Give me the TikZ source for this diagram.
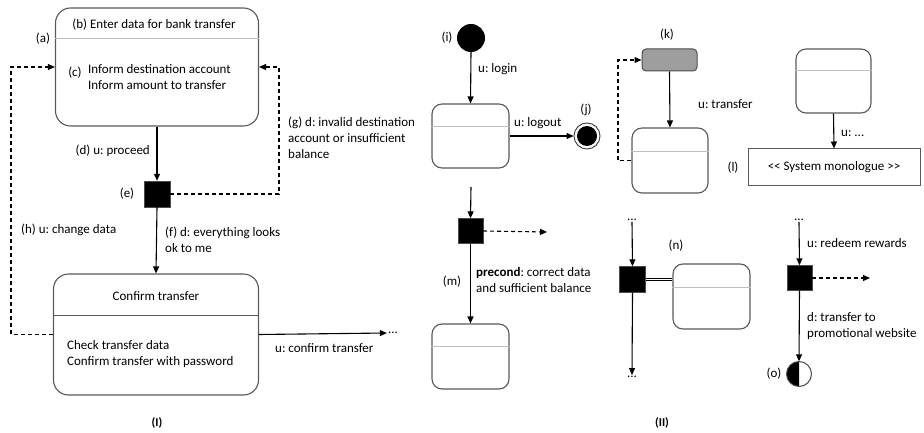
\documentclass[tikz,border=0pt]{standalone}
\usepackage{fontspec}
\setmainfont{Carlito}
\usetikzlibrary{arrows.meta,calc}
\frenchspacing
\begin{document}
\begin{tikzpicture}[x=1pt,y=-1pt,
  every node/.style={font=\fontsize{13}{16}\selectfont\frenchspacing},
  statebox/.style={draw=black!65, line width=1.1pt, rounded corners=15pt, fill=white},
  smallbox/.style={draw=black!65, line width=1.1pt, rounded corners=10pt, fill=white},
  divlight/.style={draw=black!25, line width=1pt},
  divdark/.style={draw=black!65, line width=1pt},
  lbl/.style={inner sep=1pt, align=left},
  decis/.style={draw=black!70, fill=black, minimum size=26pt, inner sep=0pt},
  arr/.style={line width=1.1pt, -{Triangle[length=7pt,width=6pt]}},
  darr/.style={line width=1.1pt, dash pattern=on 4pt off 3pt, -{Triangle[length=7pt,width=6pt]}},
]
\useasboundingbox (0,0) rectangle (924,433);

% ---------------- Part (I) ----------------
\node[statebox, minimum width=203pt, minimum height=118pt] (b1) at (157,67) {};
\draw[divlight] ($(b1.north west)+(0,31)$) -- ($(b1.north east)+(0,31)$);
\node[lbl] (tb) at (154,25) {(b) Enter data for bank transfer};
\node[lbl] (ta) at (43,39) {(a)};
\node[lbl] (tc) at (75,73) {(c)};
\node[lbl, anchor=west] (tcc) at (87,77) {Inform destination account\\Inform amount to transfer};

\node[decis] (e) at (157,194) {};
\node[lbl] (te) at (127,194) {(e)};
\draw[arr] (b1.south) -- (e.north);
\node[lbl, anchor=east] (td) at (151,151) {(d) u: proceed};

\coordinate (gc) at (279,67);
\draw[darr] (e.east) -| (gc) -- (b1.east);
\node[lbl, anchor=west] (tg) at (287,138) {(g) d: invalid destination\\account or insufficient\\balance};

\node[statebox, minimum width=205pt, minimum height=121pt] (b2) at (156,334.5) {};
\draw[divdark] ($(b2.north west)+(0,42)$) -- ($(b2.north east)+(0,42)$);
\node[lbl] (tct) at (156,296) {Confirm transfer};
\node[lbl, anchor=west] (tcd) at (66,354) {Check transfer data\\Confirm transfer with password};

\draw[arr] (e.south) -- (b2.north);
\node[lbl, anchor=west] (tf) at (164,240) {(f) d: everything looks\\ok to me};
\node[lbl, anchor=west] (th) at (20,230) {(h) u: change data};

\coordinate (hc) at (11,67);
\draw[darr] (b2.west) -| (hc) -- (b1.west);

\node[lbl] (dots1) at (393,333) {...};
\draw[arr] (b2.east) -- (dots1.west);
\node[lbl, anchor=west] (tu) at (274,348) {u: confirm transfer};

\node[lbl, font=\fontsize{12}{14}\selectfont\bfseries] (I) at (157,423) {(I)};

% ---------------- Part (II) ----------------
% (i) / (j)
\node[circle, fill=black, minimum size=28pt, inner sep=0pt] (i) at (471,38) {};
\node[lbl] (ti) at (447,38) {(i)};
\node[smallbox, minimum width=77pt, minimum height=64pt] (s1) at (470.5,136) {};
\draw[divlight] ($(s1.north west)+(0,23)$) -- ($(s1.north east)+(0,23)$);
\draw[arr] (i.south) -- (s1.north);
\node[lbl, anchor=west] (tl) at (477,69) {u: login};
\node[circle, draw=black!70, line width=1pt, fill=white, minimum size=26pt, inner sep=0pt] (j) at (587,136) {};
\fill[black] (j.center) circle[radius=10pt];
\node[lbl] (tj) at (586,110) {(j)};
\draw[arr] (s1.east) -- (j.west);
\node[lbl, anchor=west] (tlo) at (513,123) {u: logout};

% (m)
\coordinate (m0) at (471,187);
\node[decis, minimum size=25pt] (m) at (470.5,231) {};
\draw[arr] (m0) -- (m.north);
\coordinate (m1) at (547,232);
\draw[darr] (m.east) -- (m1);
\node[smallbox, minimum width=77pt, minimum height=65pt] (s2) at (470.5,356.5) {};
\draw[divlight] ($(s2.north west)+(0,23)$) -- ($(s2.north east)+(0,23)$);
\draw[arr] (m.south) -- (s2.north);
\node[lbl] (tm) at (452,282) {(m)};
\node[lbl, anchor=west] (tp) at (475,280) {\textbf{precond}: correct data\\and sufficient balance};

% (k)
\node[draw=black!70, line width=1pt, fill=black!38, rounded corners=4pt, minimum width=55pt, minimum height=22pt] (k) at (669.5,60) {};
\node[lbl] (tk) at (667,35) {(k)};
\node[smallbox, minimum width=76pt, minimum height=65pt] (s3) at (670,160.5) {};
\draw[divlight] ($(s3.north west)+(0,24)$) -- ($(s3.north east)+(0,24)$);
\draw[arr] (k.south) -- (s3.north);
\node[lbl, anchor=west] (tt) at (697,104) {u: transfer};
\coordinate (kc) at (618,60);
\draw[darr] (s3.west) -| (kc) -- (k.west);

% (l)
\node[smallbox, minimum width=75pt, minimum height=64pt] (s4) at (833.5,81) {};
\draw[divlight] ($(s4.north west)+(0,22)$) -- ($(s4.north east)+(0,22)$);
\node[draw=black!65, line width=1pt, minimum width=172pt, minimum height=37pt] (mono) at (834,167.5) {<{}< System monologue >{}>};
\draw[arr] (s4.south) -- (mono.north);
\node[lbl, anchor=west] (tud) at (840,133) {u: ...};
\node[lbl] (tll) at (733,168) {(l)};

% (n)
\node[lbl] (dots2) at (632,220) {...};
\node[decis] (nsq) at (632.5,279.5) {};
\node[lbl] (dots3) at (632,377) {...};
\draw[arr] (dots2.south) -- (nsq.north);
\draw[arr] (nsq.south) -- (dots3.north);
\node[smallbox, minimum width=77pt, minimum height=65pt] (s5) at (711.5,296.5) {};
\draw[divlight] ($(s5.north west)+(0,24)$) -- ($(s5.north east)+(0,24)$);
\draw[line width=0.7pt, double=white, double distance=1.8pt] (nsq.east) -- (nsq.east -| s5.west);
\node[lbl] (tn) at (676,246) {(n)};

% (o)
\node[lbl] (dots4) at (799,220) {...};
\node[decis, minimum size=25pt] (osq) at (799.5,278) {};
\draw[arr] (dots4.south) -- (osq.north);
\node[lbl, anchor=west] (tr) at (806,243) {u: redeem rewards};
\coordinate (o1) at (870,278);
\draw[darr] (osq.east) -- (o1);
\node[circle, minimum size=25pt, inner sep=0pt] (o) at (799,374) {};
\fill[black] (o.north) arc[start angle=90, end angle=270, radius=12.5pt] -- cycle;
\draw[black!70, line width=1pt] (o.center) circle[radius=12.5pt];
\draw[arr] (osq.south) -- (o.north);
\node[lbl, anchor=west] (tdt) at (806,326) {d: transfer to\\promotional website};
\node[lbl] (to) at (774,374) {(o)};

\node[lbl, font=\fontsize{12}{14}\selectfont\bfseries] (II) at (662,423) {(II)};
\end{tikzpicture}
\end{document}
